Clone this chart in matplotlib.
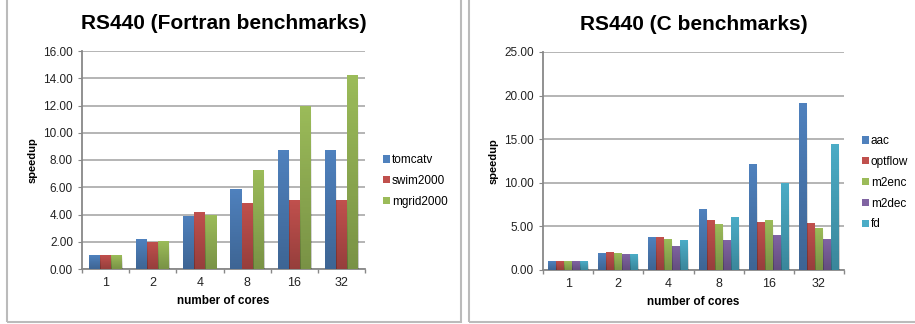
import numpy as np
import matplotlib.pyplot as plt
from matplotlib.patches import Rectangle
from matplotlib.ticker import FormatStrFormatter, MultipleLocator, FixedLocator

plt.rcParams['font.family'] = ['Liberation Sans', 'DejaVu Sans']

cores = ['1', '2', '4', '8', '16', '32']

# fortran runs
fortran_names = ['tomcatv', 'swim2000', 'mgrid2000']
tomcatv = [1.0, 2.2, 3.9, 5.85, 8.7, 8.7]
swim2000 = [1.0, 2.0, 4.2, 4.85, 5.05, 5.05]
mgrid2000 = [1.0, 2.05, 3.95, 7.25, 12.0, 14.25]

# c runs
c_names = ['aac', 'optflow', 'm2enc', 'm2dec', 'fd']
aac = [1.0, 1.9, 3.75, 7.05, 12.1, 19.1]
optflow = [1.0, 2.05, 3.75, 5.7, 5.5, 5.35]
m2enc = [1.0, 1.9, 3.5, 5.25, 5.7, 4.8]
m2dec = [1.0, 1.8, 2.8, 3.4, 4.0, 3.5]
fd = [1.0, 1.8, 3.4, 6.05, 10.0, 14.5]

colors = ['#4F81BD', '#C0504D', '#9BBB59', '#8064A2', '#4BACC6']


def shade_bars(ax, bars):
    # darken each bar towards the bottom
    rgba = np.zeros((64, 1, 4))
    rgba[..., 3] = np.linspace(0.22, 0.0, 64).reshape(-1, 1)
    for b in bars:
        x0, y0 = b.get_x(), b.get_y()
        w, h = b.get_width(), b.get_height()
        im = ax.imshow(rgba, extent=(x0, x0 + w, y0, y0 + h),
                       origin='lower', aspect='auto', zorder=3.1)
        im.set_clip_path(b)


def draw_panel(ax, series, names, ymax, ystep, title, bar_w):
    n = len(series)
    x = np.arange(len(cores))
    for i, vals in enumerate(series):
        off = (i - (n - 1) / 2) * bar_w
        bars = ax.bar(x + off, vals, bar_w, color=colors[i], label=names[i],
                      zorder=3, linewidth=0)
        shade_bars(ax, bars)
    ax.set_xlim(-0.5, len(cores) - 0.5)
    ax.set_ylim(0, ymax)
    ax.yaxis.set_major_locator(MultipleLocator(ystep))
    ax.yaxis.set_major_formatter(FormatStrFormatter('%.2f'))
    ax.set_xticks(x)
    ax.set_xticklabels(cores)
    ax.xaxis.set_minor_locator(FixedLocator(np.arange(-0.5, len(cores), 1.0)))
    ax.tick_params(axis='x', which='major', length=0, labelsize=9, pad=6, colors='#222222')
    ax.tick_params(axis='x', which='minor', length=3, color='#888888', width=1)
    ax.tick_params(axis='y', length=3, labelsize=8.5, colors='#888888', labelcolor='#222222')
    ax.grid(axis='y', color='#A8A8A8', linewidth=1.2, zorder=0)
    for s in ['top', 'right']:
        ax.spines[s].set_visible(False)
    for s in ['left', 'bottom']:
        ax.spines[s].set_color('#888888')
        ax.spines[s].set_linewidth(1.3)
    ax.set_title(title, fontsize=15, fontweight='bold', pad=16)
    ax.set_ylabel('speedup', fontsize=8, fontweight='bold')
    ax.set_xlabel('number of cores', fontsize=8.5, fontweight='bold', labelpad=4)


fig = plt.figure(figsize=(9.15, 3.24), dpi=100)

# panel frames
fig.add_artist(Rectangle((7 / 915, 2 / 324), 454 / 915, 330 / 324, fill=False,
                         edgecolor='#BBBBBB', linewidth=1.5, transform=fig.transFigure))
fig.add_artist(Rectangle((469 / 915, 2 / 324), 460 / 915, 330 / 324, fill=False,
                         edgecolor='#BBBBBB', linewidth=1.5, transform=fig.transFigure))

ax1 = fig.add_axes([82 / 915, 55 / 324, 283 / 915, 218 / 324])
draw_panel(ax1, [tomcatv, swim2000, mgrid2000], fortran_names, 16, 2,
           'RS440 (Fortran benchmarks)', 0.235)
ax1.legend(loc='upper left', bbox_to_anchor=(383 / 915, 170 / 324),
           bbox_transform=fig.transFigure, frameon=False, fontsize=8.5,
           handlelength=0.6, handleheight=0.6, handletextpad=0.15, labelspacing=0.75,
           borderaxespad=0, borderpad=0)

ax2 = fig.add_axes([543 / 915, 54 / 324, 301 / 915, 218 / 324])
draw_panel(ax2, [aac, optflow, m2enc, m2dec, fd], c_names, 25, 5,
           'RS440 (C benchmarks)', 0.16)
ax2.legend(loc='upper left', bbox_to_anchor=(862 / 915, 189 / 324),
           bbox_transform=fig.transFigure, frameon=False, fontsize=8.5,
           handlelength=0.6, handleheight=0.6, handletextpad=0.15, labelspacing=0.75,
           borderaxespad=0, borderpad=0)

fig.savefig('out.png', dpi=100)
